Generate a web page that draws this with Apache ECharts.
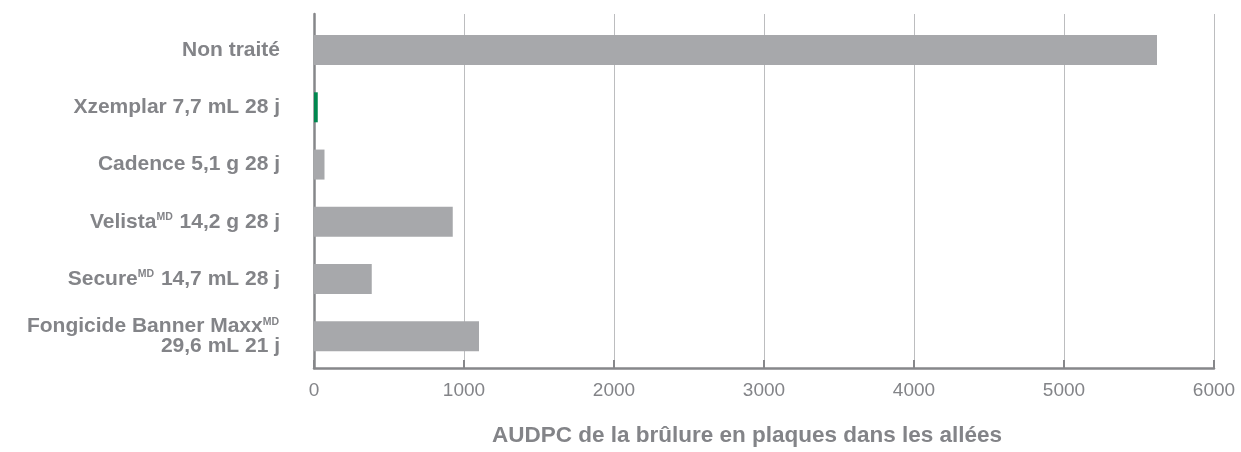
<!DOCTYPE html>
<html>
<head>
	<meta charset="utf-8">
	<title>AUDPC</title>
	<script src="https://cdn.jsdelivr.net/npm/echarts@6/dist/echarts.min.js"></script>
	<style>
		body { margin: 0; background: #fff; }
	</style>
</head>
<body>
	<div id="main" style="height: 452px; width: 1241px;"></div>
	<script type="text/javascript">
		// traitements, de haut en bas
		var categories = [
			'Non traité',
			'Xzemplar 7,7 mL 28 j',
			'Cadence 5,1 g 28 j',
			'VelistaMD 14,2 g 28 j',
			'SecureMD 14,7 mL 28 j',
			'Fongicide Banner MaxxMD\n29,6 mL 21 j'
		];
		var values = [5620, 25, 70, 925, 385, 1100];
		var highlighted = 'Xzemplar 7,7 mL 28 j';
		var xTicks = [0, 1000, 2000, 3000, 4000, 5000, 6000];

		var grey = '#a7a8ab';
		var green = '#00874f';
		var textGrey = '#838488';
		var fontFam = '"Liberation Sans", Arial, Helvetica, sans-serif';

		var barData = values.map(function (v, i) {
			return {
				value: v,
				itemStyle: { color: categories[i] === highlighted ? green : grey }
			};
		});

		var myChart = echarts.init(document.getElementById('main'));
		var option = {
			animation: false,
			textStyle: { fontFamily: fontFam },
			grid: [
				{ left: 314, right: 27, top: 14, height: 359 },          // axes frame
				{ left: 314, right: 27, top: 21.4, height: 343.6 }       // bars
			],
			xAxis: [{
				gridIndex: 0,
				type: 'value',
				min: xTicks[0],
				max: xTicks[xTicks.length - 1],
				interval: 1000,
				axisLine: { show: true, lineStyle: { color: '#86878a', width: 2.5 } },
				axisTick: { show: true, inside: true, length: 8, lineStyle: { color: '#86878a', width: 2 } },
				splitLine: { show: true, lineStyle: { color: '#bcbdbf', width: 1 } },
				axisLabel: {
					color: textGrey, fontSize: 19, margin: 13, fontFamily: fontFam,
					formatter: function (v) { return String(v); }
				},
				name: 'AUDPC de la brûlure en plaques dans les allées',
				nameLocation: 'middle',
				nameGap: 56,
				nameTextStyle: {
					color: textGrey, fontSize: 22.5, fontWeight: 'bold', fontFamily: fontFam,
					padding: [0, 34, 0, 0]
				}
			}, {
				gridIndex: 1,
				type: 'value',
				min: xTicks[0],
				max: xTicks[xTicks.length - 1],
				show: false
			}],
			yAxis: [{
				gridIndex: 0,
				type: 'value',
				min: 0,
				max: 1,
				axisLine: { show: true, lineStyle: { color: '#86878a', width: 2.5 } },
				axisTick: { show: false },
				axisLabel: { show: false },
				splitLine: { show: false }
			}, {
				gridIndex: 1,
				type: 'category',
				inverse: true,
				data: categories,
				axisLine: { show: false },
				axisTick: { show: false },
				axisLabel: {
					color: textGrey,
					fontSize: 21,
					fontWeight: 'bold',
					fontFamily: fontFam,
					lineHeight: 20,
					margin: 34,
					align: 'right',
					formatter: function (v) {
						return v.replace(/MD/g, '{s|MD}');
					},
					rich: {
						s: {
							color: textGrey,
							fontSize: 10.5,
							fontWeight: 'bold',
							fontFamily: fontFam,
							lineHeight: 12,
							verticalAlign: 'top',
							padding: [0, 1, 0, 0]
						}
					}
				}
			}],
			series: [{
				type: 'bar',
				xAxisIndex: 1,
				yAxisIndex: 1,
				barWidth: 30,
				data: barData
			}]
		};
		myChart.setOption(option);
	</script>
</body>
</html>
